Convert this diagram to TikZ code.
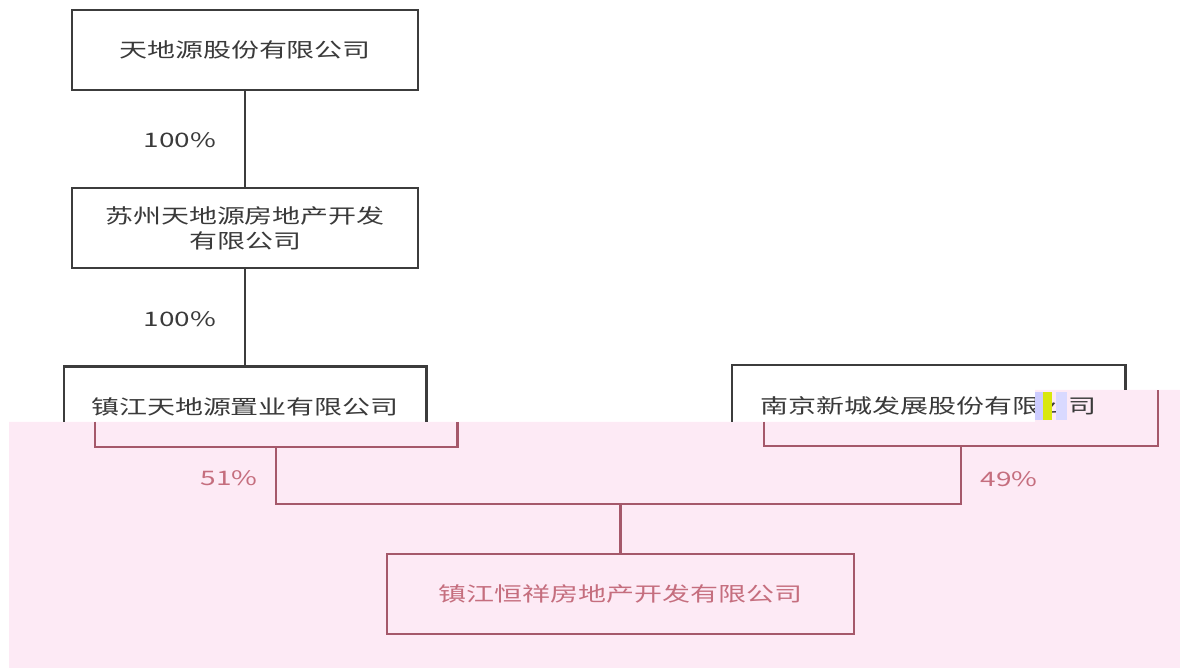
\documentclass[tikz,border=0pt]{standalone}
\usepackage{fontspec}
\setmainfont{Noto Sans CJK SC}
\usepackage{graphicx}
\definecolor{lineblack}{HTML}{3C3C3C}
\definecolor{textgray}{HTML}{3A3A3A}
\definecolor{linered}{HTML}{A5586A}
\definecolor{textred}{HTML}{C56E7E}
\definecolor{glitchpink}{HTML}{FDEAF5}
\newcommand{\wide}[1]{\scalebox{1.4}[1]{#1}}
\tikzset{
  box/.style={minimum height=40pt, inner sep=0pt, align=center,
    font=\fontsize{10}{12.5}\selectfont, text=textgray},
  blackline/.style={draw=lineblack, line width=1.1pt},
  redline/.style={draw=linered, line width=1.1pt},
  share/.style={font=\fontsize{10}{12}\selectfont, inner sep=0pt}
}

\begin{document}
\begin{tikzpicture}[x=0.5pt,y=-0.5pt]
\useasboundingbox (0,0) rectangle (1180,668);

% Shifted lower band
\fill[glitchpink] (9,422) -- (1035,422) -- (1035,390) -- (1180,390)
  -- (1180,668) -- (9,668) -- cycle;

% Parent companies
\node[box, blackline, minimum width=173pt] (top) at (245,50) {\wide{天地源股份有限公司}};
\node[box, blackline, minimum width=173pt] (suzhou) at (245,228)
  {\wide{苏州天地源房地产开发}\\\wide{有限公司}};
\node[box, minimum width=181pt] (zhenjiang) at (245,407) {\wide{镇江天地源置业有限公司}};
\node[box, minimum width=196.5pt] (nanjing) at (928.5,405.5) {\wide{南京新城发展股份有限公司}};

\draw[blackline] (top) -- (suzhou);
\draw[blackline] (suzhou) -- (zhenjiang);
\node[share, text=textgray] (pctA) at (180,140) {\wide{100\%}};
\node[share, text=textgray] (pctB) at (180,319) {\wide{100\%}};

% Upper halves, cut by the band
\draw[blackline] ([yshift=-27.5pt]zhenjiang.north west) -- (zhenjiang.north west)
  -- (zhenjiang.north east) -- ([yshift=-27.5pt]zhenjiang.north east);
\draw[blackline] ([yshift=-28.25pt]nanjing.north west) -- (nanjing.north west)
  -- (nanjing.north east) -- ([yshift=-12.25pt]nanjing.north east);

% Colour noise
\fill[blue!20] (1035,392) rectangle (1043,420);
\fill[yellow!85!green] (1043,392) rectangle (1052,420);
\fill[blue!15] (1056,392) rectangle (1067,420);

% Lower halves, shifted right
\node[box, minimum width=181pt] (zhenjiangLow) at (276,407) {};
\node[box, minimum width=196.5pt] (nanjingLow) at (961,405.5) {};
\draw[redline] ([yshift=-27.5pt]zhenjiangLow.north west) -- (zhenjiangLow.south west)
  -- (zhenjiangLow.south east) -- ([yshift=-27.5pt]zhenjiangLow.north east);
\draw[redline] ([yshift=-28.25pt]nanjingLow.north west) -- (nanjingLow.south west)
  -- (nanjingLow.south east) -- ([yshift=-12.25pt]nanjingLow.north east);

% Joint company
\node[box, redline, minimum width=233.5pt, text=textred] (hengxiang) at (620.5,594)
  {\wide{镇江恒祥房地产开发有限公司}};
\coordinate (joint) at (hengxiang.north |- 0,504);
\draw[redline] (zhenjiangLow.south) |- (joint) -| (nanjingLow.south);
\draw[redline] (joint) -- (hengxiang.north);
\node[share, text=textred] (pctL) at (229,478) {\wide{51\%}};
\node[share, text=textred] (pctR) at (1009,479) {\wide{49\%}};

\end{tikzpicture}
\end{document}
